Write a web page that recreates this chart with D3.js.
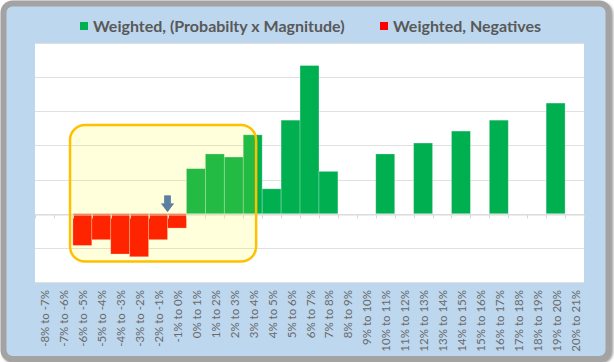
<!DOCTYPE html>
<html lang="en">
<head>
    <meta charset="UTF-8">
    <title>Weighted distribution</title>
    <script src="https://d3js.org/d3.v7.min.js"></script>
    <style>
        body { margin: 0; background: #fff; }
        svg { display: block; }
    </style>
</head>
<body>
    <div id="chart"></div>
    <script>
        // categories along the x axis (one per 1% bucket)
        const categories = [
            "-8% to -7%", "-7% to -6%", "-6% to -5%", "-5% to -4%", "-4% to -3%",
            "-3% to -2%", "-2% to -1%", "-1% to 0%", "0% to 1%", "1% to 2%",
            "2% to 3%", "3% to 4%", "4% to 5%", "5% to 6%", "6% to 7%",
            "7% to 8%", "8% to 9%", "9% to 10%", "10% to 11%", "11% to 12%",
            "12% to 13%", "13% to 14%", "14% to 15%", "15% to 16%", "16% to 17%",
            "17% to 18%", "18% to 19%", "19% to 20%", "20% to 21%"
        ];

        // series values
        const weighted = [
            null, null, null, null, null, null, null, null,
            1.32, 1.75, 1.66, 2.31, 0.73, 2.74, 4.34, 1.24,
            null, null, 1.75, null, 2.07, null, 2.42, null,
            2.74, null, null, 3.24, null
        ];
        const negatives = [
            null, null, -0.93, -0.76, -1.18, -1.26, -0.76, -0.42,
            null, null, null, null, null, null, null, null,
            null, null, null, null, null, null, null, null,
            null, null, null, null, null
        ];

        const seriesNames = ["Weighted, (Probabilty x Magnitude)", "Weighted, Negatives"];
        const seriesColors = ["#00b050", "#ff0000"];
        const gridValues = [-2, -1, 0, 1, 2, 3, 4, 5];

        // highlighted area (category index range, value range) and the marker arrow
        const highlight = { from: 1.85, to: 11.68, top: 2.6, bottom: -1.4 };
        const arrowAt = 7; // boundary before "-1% to 0%"

        const W = 614, H = 362;
        const plot = { left: 35, top: 43, right: 584, bottom: 282 };

        const svg = d3.select("#chart").append("svg")
            .attr("width", W)
            .attr("height", H);

        const defs = svg.append("defs");
        const shadow = defs.append("filter").attr("id", "shadow")
            .attr("x", "-5%").attr("y", "-5%").attr("width", "110%").attr("height", "110%");
        shadow.append("feDropShadow")
            .attr("dx", 1.5).attr("dy", 1.5)
            .attr("stdDeviation", 1.2)
            .attr("flood-color", "#555")
            .attr("flood-opacity", 0.6);

        // outer frame
        svg.append("rect")
            .attr("x", 3.5).attr("y", 3.5)
            .attr("width", 605).attr("height", 355.5)
            .attr("rx", 9)
            .attr("fill", "#bdd7ee")
            .attr("stroke", "#a3a3a3")
            .attr("stroke-width", 6)
            .attr("filter", "url(#shadow)");

        // plot background
        svg.append("rect")
            .attr("x", plot.left).attr("y", plot.top)
            .attr("width", plot.right - plot.left)
            .attr("height", plot.bottom - plot.top)
            .attr("fill", "#fff");

        const x = d3.scaleBand()
            .domain(categories)
            .range([plot.left, plot.right])
            .padding(0);

        const y = d3.scaleLinear()
            .domain([-2, 5])
            .range([plot.bottom, plot.top]);

        // position along x for fractional category index
        const xAt = i => plot.left + i * x.step();

        // gridlines
        svg.append("g")
            .selectAll("line")
            .data(gridValues)
            .join("line")
            .attr("x1", plot.left).attr("x2", plot.right)
            .attr("y1", d => Math.round(y(d)) + 0.5)
            .attr("y2", d => Math.round(y(d)) + 0.5)
            .attr("stroke", "#e0e0e0")
            .attr("stroke-width", 1);

        // bars
        const bars = svg.append("g");
        [weighted, negatives].forEach((vals, s) => {
            const rows = categories.map((c, i) => ({ c, v: vals[i] })).filter(d => d.v != null);
            bars.selectAll(null)
                .data(rows)
                .join("rect")
                .attr("x", d => x(d.c))
                .attr("width", x.bandwidth())
                .attr("y", d => y(Math.max(0, d.v)))
                .attr("height", d => Math.abs(y(d.v) - y(0)))
                .attr("fill", seriesColors[s])
                .attr("stroke", "rgba(255,255,255,0.3)")
                .attr("stroke-width", 0.8);
        });

        // category axis drawn at zero
        const xAxis = svg.append("g")
            .attr("transform", `translate(0,${Math.round(y(0)) + 0.5})`)
            .call(d3.axisBottom(x).tickSize(0).tickFormat(""));
        xAxis.select(".domain").attr("stroke", "#d9d9d9");
        // tick marks between categories
        xAxis.selectAll(".sep")
            .data(d3.range(categories.length + 1))
            .join("line")
            .attr("class", "sep")
            .attr("x1", i => Math.round(xAt(i)) + 0.5)
            .attr("x2", i => Math.round(xAt(i)) + 0.5)
            .attr("y1", 0).attr("y2", 4)
            .attr("stroke", "#d9d9d9");

        // category labels below the plot
        svg.append("g")
            .selectAll("text")
            .data(categories)
            .join("text")
            .attr("transform", d => `translate(${x(d) + x.bandwidth() / 2 + 1},${plot.bottom + 8}) rotate(-90)`)
            .attr("text-anchor", "end")
            .attr("dy", "0.35em")
            .attr("font-family", "Lato, 'Open Sans', sans-serif")
            .attr("font-size", 11.5)
            .attr("fill", "#6a6a6a")
            .text(d => d);

        // highlight box on top of the bars
        svg.append("rect")
            .attr("x", xAt(highlight.from))
            .attr("y", y(highlight.top))
            .attr("width", xAt(highlight.to) - xAt(highlight.from))
            .attr("height", y(highlight.bottom) - y(highlight.top))
            .attr("rx", 15)
            .attr("fill", "rgba(255,255,0,0.14)")
            .attr("stroke", "#ffc000")
            .attr("stroke-width", 2.5);

        // down arrow
        const ax = xAt(arrowAt), ay = y(0) - 2;
        svg.append("path")
            .attr("d", `M${ax - 3},${ay - 16} L${ax + 3},${ay - 16} L${ax + 3},${ay - 8} L${ax + 6},${ay - 8} L${ax},${ay} L${ax - 6},${ay - 8} L${ax - 3},${ay - 8} Z`)
            .attr("fill", "#5d7fa3")
            .attr("stroke", "#4a6a8e")
            .attr("stroke-width", 0.6);

        // legend
        const legendX = [80, 380];
        const legend = svg.append("g")
            .selectAll("g")
            .data(seriesNames)
            .join("g")
            .attr("transform", (d, i) => `translate(${legendX[i]},22)`);
        legend.append("rect")
            .attr("width", 8).attr("height", 8)
            .attr("fill", (d, i) => seriesColors[i]);
        legend.append("text")
            .attr("x", 13).attr("y", 9.5)
            .attr("font-family", "Lato, 'Open Sans', sans-serif")
            .attr("font-weight", "bold")
            .attr("font-size", 16)
            .attr("fill", "#595959")
            .text(d => d);
    </script>
</body>
</html>
